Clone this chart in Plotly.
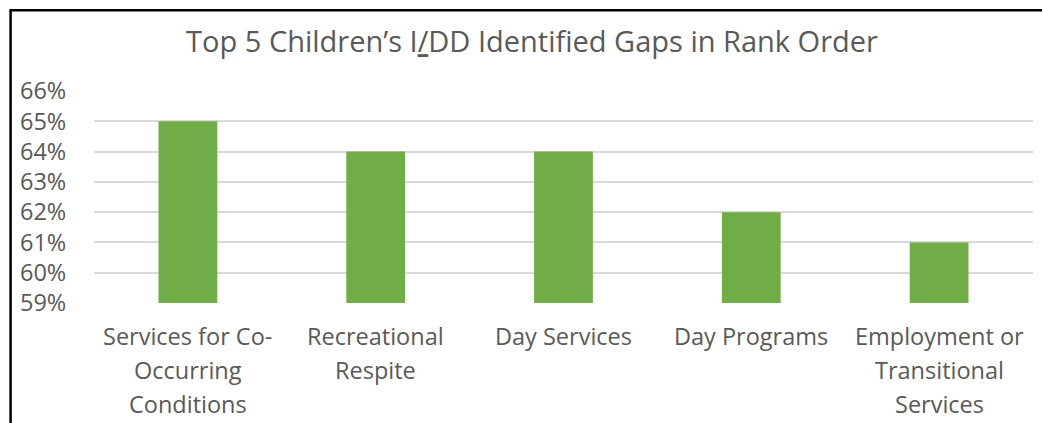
import plotly.graph_objects as go

categories = [
    "Services for Co-<br>Occurring<br>Conditions",
    "Recreational<br>Respite",
    "Day Services",
    "Day Programs",
    "Employment or<br>Transitional<br>Services",
]
values = [65, 64, 64, 62, 61]
tick_vals = [59, 60, 61, 62, 63, 64, 65, 66]
tick_text = [f"{v}%" for v in tick_vals]
title_text = "Top 5 Children’s I<u>/</u>DD Identified Gaps in Rank Order"

W, H = 1042, 423
L, R, T, B = 93.5, 8.5, 90.5, 119.7
PW, PH = W - L - R, H - T - B
FONT = "Open Sans"
GREY = "#595959"

ids = list(range(len(categories)))

fig = go.Figure()
fig.add_trace(go.Bar(
    x=ids, y=[v - 59 for v in values], base=59,
    marker=dict(color="#70AD47", line=dict(width=0)),
    width=0.313,
    hoverinfo="skip",
))

annotations = []
LINE_H = 34
for i, lab in enumerate(categories):
    for j, line in enumerate(lab.split("<br>")):
        annotations.append(dict(
            x=ids[i], xref="x", y=0, yref="paper",
            yanchor="top", xanchor="center",
            yshift=-(15 + j * LINE_H),
            text=line, showarrow=False,
            font=dict(family=FONT, size=23.5, color=GREY),
        ))

def px2paper_x(px):
    return (px - L) / PW

def px2paper_y(py):
    return (H - B - py) / PH

shapes = [
    dict(type="line", xref="paper", yref="paper",
         x0=px2paper_x(10), x1=px2paper_x(10),
         y0=px2paper_y(9), y1=px2paper_y(H + 5),
         line=dict(color="black", width=2.5)),
    dict(type="line", xref="paper", yref="paper",
         x0=px2paper_x(9), x1=px2paper_x(W + 5),
         y0=px2paper_y(9.5), y1=px2paper_y(9.5),
         line=dict(color="black", width=2.5)),
]

fig.update_layout(
    width=W, height=H,
    margin=dict(l=L, r=R, t=T, b=B, pad=0),
    paper_bgcolor="white", plot_bgcolor="white",
    showlegend=False,
    title=dict(text=title_text, x=532 / W, xref="container", xanchor="center",
               y=1 - 42 / H, yref="container", yanchor="middle",
               font=dict(family=FONT, size=29, color=GREY)),
    xaxis=dict(range=[-0.5, len(categories) - 0.5], showticklabels=False,
               showgrid=False, zeroline=False, showline=False, ticks=""),
    yaxis=dict(range=[59, 66], tickvals=tick_vals, ticktext=tick_text,
               showgrid=True, gridcolor="#D9D9D9", gridwidth=1.5,
               zeroline=False, showline=False,
               ticks="outside", ticklen=22, tickcolor="rgba(0,0,0,0)",
               tickfont=dict(family=FONT, size=23.5, color=GREY)),
    annotations=annotations,
    shapes=shapes,
)

fig.write_html("out.html", config={"displayModeBar": False},
               post_script="document.body.style.margin='0';document.body.style.overflow='hidden';")
